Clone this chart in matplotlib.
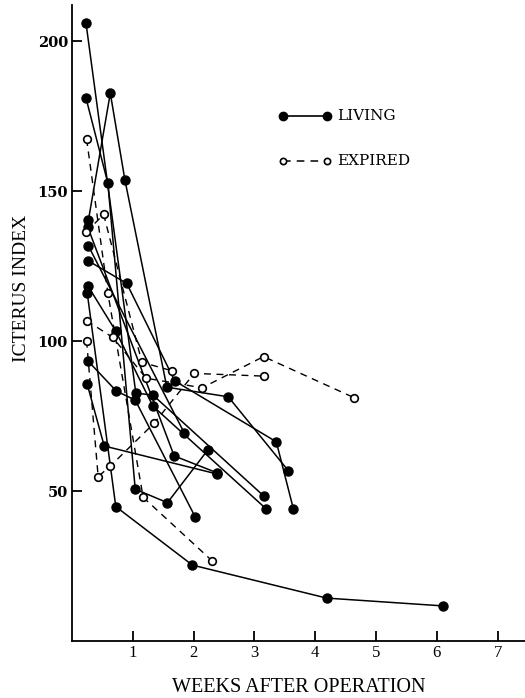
import matplotlib
matplotlib.use('Agg')
import matplotlib.pyplot as plt

# living patients (weeks after operation, icterus index)
liv_w = [
    [0.23, 1.05, 1.33, 3.15],
    [0.23, 0.59, 1.04, 1.57, 2.23],
    [0.27, 0.63, 0.87, 1.56, 2.57, 3.56],
    [0.26, 0.90, 1.69, 3.36, 3.64],
    [0.25, 0.72, 1.98, 4.19, 6.10],
    [0.25, 0.53, 2.38],
    [0.26, 0.73, 1.04, 2.03],
    [0.26, 0.72, 1.33, 3.19],
    [0.26, 1.68, 2.38],
    [0.27, 1.85],
]
liv_v = [
    [206, 82.6, 82.0, 48.4],
    [181, 152.6, 50.6, 46.1, 63.6],
    [140.3, 182.6, 153.7, 84.6, 81.4, 56.7],
    [126.8, 119.2, 86.7, 66.4, 44.1],
    [116.1, 44.8, 25.3, 14.3, 11.7],
    [85.6, 65.0, 55.7],
    [93.4, 83.3, 80.3, 41.2],
    [118.4, 103.3, 78.3, 44.1],
    [137.9, 61.7, 56.1],
    [131.7, 69.2],
]

# expired patients
exp_w = [
    [0.24, 0.59, 1.17, 2.30],
    [0.23, 0.52, 1.15, 1.64],
    [0.24, 0.43, 0.63, 1.35, 2.01, 3.15],
    [0.24, 0.67, 1.22, 2.14, 3.15, 4.64],
]
exp_v = [
    [167.3, 115.9, 47.9, 26.8],
    [136.2, 142.2, 92.9, 90.1],
    [100.1, 54.8, 58.3, 72.6, 89.2, 88.3],
    [106.8, 101.2, 87.6, 84.4, 94.8, 81.1],
]

yticks = [50, 100, 150, 200]
xticks = [1, 2, 3, 4, 5, 6, 7]

fig = plt.figure(figsize=(5.25, 6.98), dpi=100)
ax = fig.add_axes([72/525, 1-641/698, (525-72)/525, (641-5)/698])

for w, v in zip(liv_w, liv_v):
    ax.plot(w, v, color='black', lw=1.1, marker='o', ms=6.5, mfc='black', mec='black')
for w, v in zip(exp_w, exp_v):
    ax.plot(w, v, color='black', lw=1.0, ls=(0, (5, 4)), marker='o', ms=5.5,
            mfc='white', mec='black', mew=1.2)

ax.set_xlim(0, 7.45)
ax.set_ylim(0, 212)
ax.spines['top'].set_visible(False)
ax.spines['right'].set_visible(False)
ax.spines['left'].set_linewidth(1.3)
ax.spines['bottom'].set_linewidth(1.3)
ax.set_xticks(xticks)
ax.set_yticks(yticks)
ax.tick_params(direction='in', length=7, width=1.3, pad=3)
for t in ax.get_yticklabels():
    t.set_fontfamily('DejaVu Serif')
    t.set_fontweight('bold')
    t.set_fontsize(10.5)
for t in ax.get_xticklabels():
    t.set_fontfamily('Liberation Serif')
    t.set_fontsize(12)

ax.set_ylabel('ICTERUS INDEX', family='Liberation Serif', fontsize=14, va='center')
ax.yaxis.set_label_coords(-50/453, (641-288)/636)
ax.set_xlabel('WEEKS AFTER OPERATION', family='Liberation Serif', fontsize=14.5, va='center')
ax.xaxis.set_label_coords((299-72)/453, -(687-641)/636)

# legend
tr = ax.transAxes
def ax_xy(px, py):
    return (px-72)/453, (641-py)/636
x0, y0 = ax_xy(283, 116)
x1, _ = ax_xy(327, 116)
ax.plot([x0, x1], [y0, y0], transform=tr, color='black', lw=1.2, marker='o', ms=6, clip_on=False)
ax.text(ax_xy(337, 116)[0], y0, 'LIVING', transform=tr, va='center', family='DejaVu Serif', fontsize=11)
x0, y0 = ax_xy(283, 161)
ax.plot([x0, x1], [y0, y0], transform=tr, color='black', lw=1.1, ls=(0, (5, 4)), marker='o', ms=4.5,
        mfc='white', mew=1.2, clip_on=False)
ax.text(ax_xy(337, 161)[0], y0, 'EXPIRED', transform=tr, va='center', family='DejaVu Serif', fontsize=11)

fig.savefig('out.png', dpi=100)
